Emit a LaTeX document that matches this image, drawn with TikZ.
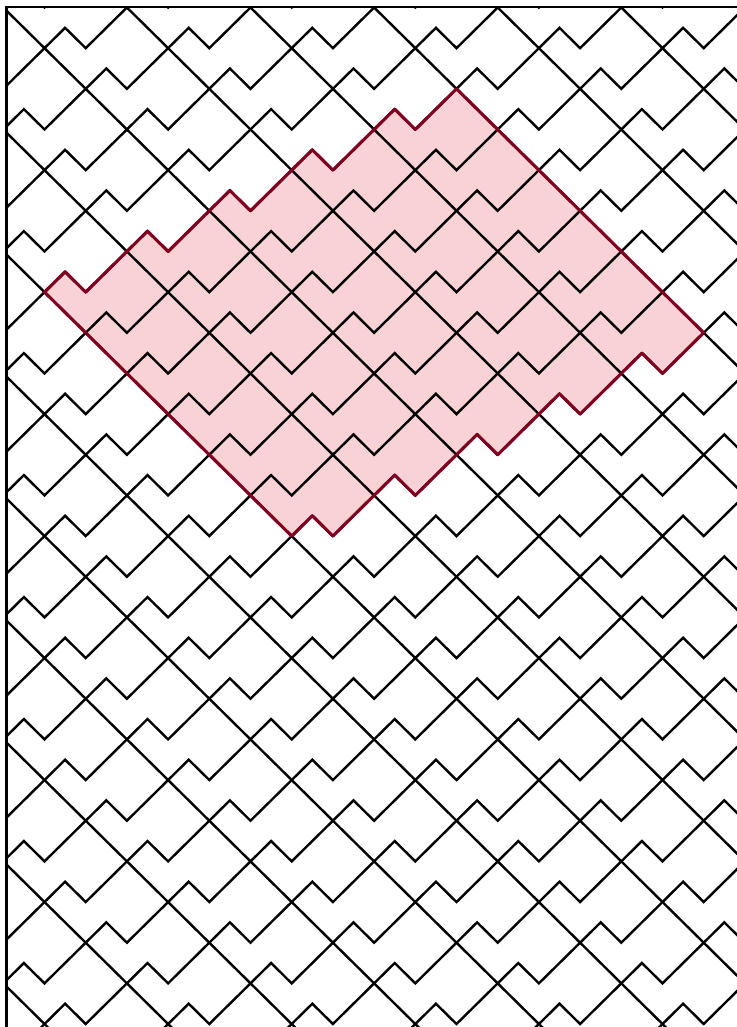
\documentclass[tikz,border=0pt]{standalone}
\usepackage{xcolor}
\usepackage{tikz}

\definecolor{patchedge}{RGB}{128,0,32}
\definecolor{patchfill}{RGB}{249,210,214}

\newcommand{\patchoutline}{(13,-9) -- (13,-7) -- (12,-7) -- (12,-4) -- (11,-4) -- (11,-1) -- (10,-1) -- (10,2) -- (9,2) -- (9,5) -- (8,5) -- (8,6) -- (20,6) -- (20,5) -- (21,5) -- (21,2) -- (22,2) -- (22,-1) -- (23,-1) -- (23,-4) -- (24,-4) -- (24,-7) -- (25,-7) -- (25,-9) -- cycle}

\begin{document}
\begin{tikzpicture}[
    x=1pt, y=-1pt,
    frameline/.style={line width=2.8pt, draw=black},
    tileline/.style={line width=2.4pt, draw=black},
    patchline/.style={line width=3.1pt, draw=patchedge, line join=round},
    lattice/.style={shift={(3.3,7.5)}, x={(20.6pt,-20.33pt)}, y={(-20.6pt,-20.33pt)}}
  ]
    \useasboundingbox (0,0) rectangle (736,1027);
    \begin{scope}
      \clip (6.5,7) rectangle (745,1040);
      \begin{scope}[lattice]
        \fill[patchfill] \patchoutline;
        \foreach \k in {-7,...,8} {
          \draw[tileline] (-2,3*\k) -- (46,3*\k);
        }
        \foreach \j in {-5,...,27} {
          \draw[tileline] (2*\j+7,-22)
            \foreach \n in {-7,...,9} { -- (2*\j-\n,3*\n+2) -- (2*\j-\n-1,3*\n+2) };
        }
        \draw[patchline] \patchoutline;
      \end{scope}
    \end{scope}
    \draw[frameline] (6.5,1040) -- (6.5,7) -- (745,7);
  \end{tikzpicture}
\end{document}
